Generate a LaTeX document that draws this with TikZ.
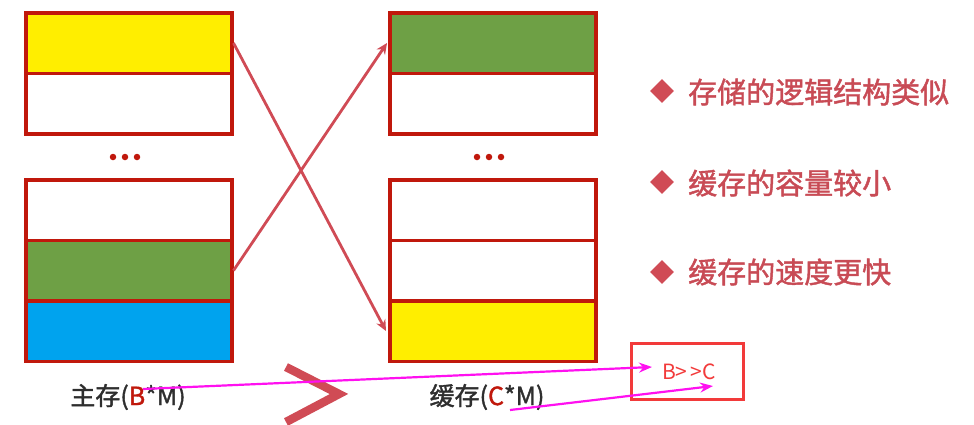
\documentclass[tikz,border=0pt]{standalone}
\usepackage{fontspec}
\setmainfont{Noto Sans CJK SC}
\newfontfamily\boldcjk[FakeBold=1.5]{Noto Sans CJK SC}
\usetikzlibrary{arrows.meta,shapes.geometric}
\definecolor{boxred}{HTML}{C0180C}
\definecolor{cyel}{HTML}{FFEE00}
\definecolor{cgreen}{HTML}{6EA045}
\definecolor{cblue}{HTML}{00A3EE}
\definecolor{arrred}{HTML}{D04B55}
\definecolor{txtred}{HTML}{C84B55}
\definecolor{mag}{HTML}{FF10F0}
\definecolor{bred}{HTML}{F23A3A}
\definecolor{lbl}{HTML}{2E2E2E}
\tikzset{
  cell/.style={draw=boxred, line width=3.5pt, minimum width=206pt, minimum height=60.5pt, inner sep=0pt, anchor=north west},
  dotc/.style={fill=boxred, draw=none, circle, minimum size=6.5pt, inner sep=0pt},
  map/.style={draw=arrred, line width=2.8pt, -{Stealth[length=11pt,width=10pt]}},
  magarr/.style={draw=mag, line width=2.2pt, -{Stealth[length=13pt,width=10pt]}},
  bullet/.style={fill=arrred, draw=none, diamond, minimum size=24pt, inner sep=0pt},
  btxt/.style={text=txtred, font=\boldcjk\fontsize{29}{31}\selectfont, anchor=west, inner sep=0pt},
  lab/.style={text=lbl, font=\boldcjk\fontsize{25}{27}\selectfont, inner sep=0pt}
}
\begin{document}
\begin{tikzpicture}[x=1pt,y=-1pt]
\useasboundingbox (0,0) rectangle (974,424);
% left column
\node[cell, fill=cyel] (l1) at (24,11) {};
\node[cell, fill=white] (l2) at (24,71.5) {};
\node[cell, fill=white] (l3) at (24,178) {};
\node[cell, fill=cgreen] (l4) at (24,238.5) {};
\node[cell, fill=cblue] (l5) at (24,299) {};
\node[dotc] (ld1) at (113,157) {};
\node[dotc] (ld2) at (125,157) {};
\node[dotc] (ld3) at (137,157) {};
% right column
\node[cell, fill=cgreen] (r1) at (388,11) {};
\node[cell, fill=white] (r2) at (388,71.5) {};
\node[cell, fill=white] (r3) at (388,178) {};
\node[cell, fill=white] (r4) at (388,238.5) {};
\node[cell, fill=cyel] (r5) at (388,299) {};
\node[dotc] (rd1) at (477,157) {};
\node[dotc] (rd2) at (489,157) {};
\node[dotc] (rd3) at (501,157) {};
% mapping arrows
\draw[map] (l1.east) -- ([xshift=-2pt]r5.west);
\draw[map] (l4.east) -- ([xshift=-1pt]r1.west);
% labels
\node[lab] (lm) at (128,397) {主存(\textcolor{boxred}{B}*M)};
\node[lab] (lc) at (487,397) {缓存(\textcolor{boxred}{C}*M)};
% big greater-than
\draw[arrred, line width=8.5pt, line join=miter] (286,367) -- (339,394) -- (286,422);
% bullets
\node[bullet] (b1) at (662,91) {};
\node[btxt] (t1) at (688,92) {存储的逻辑结构类似};
\node[bullet] (b2) at (662,182) {};
\node[btxt] (t2) at (688,183) {缓存的容量较小};
\node[bullet] (b3) at (662,272) {};
\node[btxt] (t3) at (688,272) {缓存的速度更快};
% B>>C box
\node[draw=bred, line width=3pt, minimum width=112pt, minimum height=56pt, inner sep=0pt] (bc) at (687.5,371.5) {};
\node[text=bred, font=\fontsize{21}{22}\selectfont, inner sep=0pt] (bct) at (689,372) {B>\,>C};
% magenta arrows
\coordinate (m1s) at (143,389);
\coordinate (m1e) at (652,367);
\coordinate (m2s) at (510,410);
\coordinate (m2e) at (713,386);
\draw[magarr] (m1s) -- (m1e);
\draw[magarr] (m2s) -- (m2e);
\end{tikzpicture}
\end{document}
